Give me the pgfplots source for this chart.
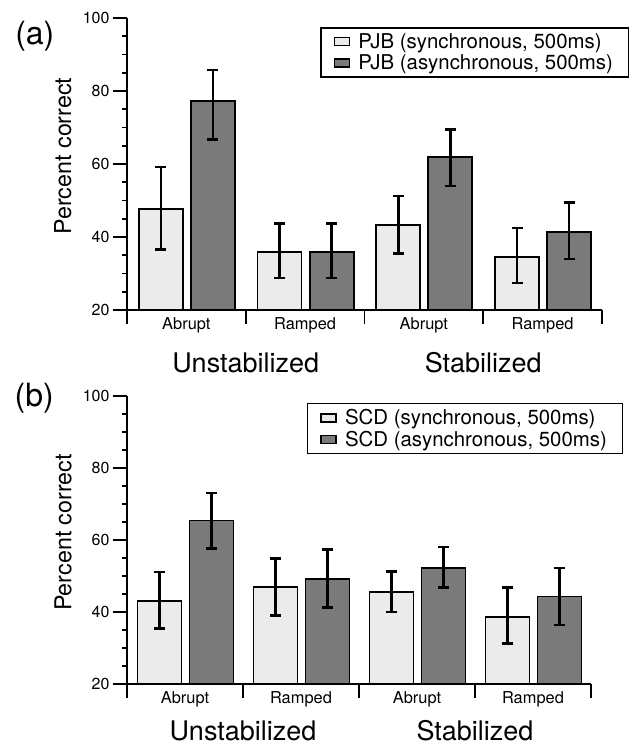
\documentclass[border=0pt]{standalone}
\usepackage{pgfplots}
\pgfplotsset{compat=1.18}
\usepackage{fontspec}
\setmainfont{TeX Gyre Heros}
\definecolor{lightbar}{RGB}{235,235,235}
\definecolor{darkbar}{RGB}{122,122,122}

% x = category index (0..3) plus the bar's offset within its group
\pgfplotstableread{
x y ep em
-0.215 47.7 11.4 11.1
0.785 35.8 7.9 7.1
1.785 43.2 8.0 7.7
2.785 34.6 7.9 7.2
}\pjbsync
\pgfplotstableread{
x y ep em
0.223 77.3 8.5 10.6
1.223 35.8 7.9 7.1
2.223 61.9 7.5 7.9
3.223 41.4 8.1 7.5
}\pjbasync
\pgfplotstableread{
x y ep em
-0.220 43.1 8.0 7.7
0.780 46.9 8.0 7.9
1.780 45.6 5.7 5.6
2.780 38.7 8.1 7.5
}\scdsync
\pgfplotstableread{
x y ep em
0.228 65.4 7.6 7.8
1.228 49.2 8.2 7.9
2.228 52.3 5.8 5.5
3.228 44.3 8.0 7.9
}\scdasync

\pgfplotsset{
  mybars/.style={
    scale only axis, anchor=south west, clip mode=individual,
    xmin=-0.5, xmax=3.5, ymin=20, ymax=100,
    axis x line*=bottom, axis y line*=left,
    axis line style={line width=1.8pt, black},
    ytick={20,40,60,80,100}, minor y tick num=3,
    tick align=outside, major tick length=14pt, minor tick length=5pt,
    tick style={line width=1.8pt, black},
    minor tick style={line width=1.8pt, black},
    xtick={-0.5,0.5,1.5,2.5,3.5}, xticklabels={},
    extra x ticks={0,1,2,3},
    extra x tick labels={Abrupt,Ramped,Abrupt,Ramped},
    extra x tick style={major tick length=0pt,
      tick label style={font=\fontsize{16.4}{18}\selectfont, yshift=-4pt}},
    yticklabel style={font=\fontsize{16}{18}\selectfont},
    /pgf/number format/assume math mode=true,
    ylabel={Percent correct},
    legend cell align=left,
  },
  syncbar/.style={ybar, bar width=44pt, bar shift=0pt, fill=lightbar, draw=black, line width=1.8pt,
    legend image code/.code={\draw[fill=lightbar, draw=black, line width=1.2pt] (0pt,-4pt) rectangle (15pt,4pt);},
    error bars/.cd, y dir=both, y explicit,
    error bar style={line width=2.4pt, black},
    error mark options={rotate=90, mark size=5.5pt, line width=2.4pt, black}},
  asyncbar/.style={ybar, bar width=44pt, bar shift=0pt, fill=darkbar, draw=black, line width=1.8pt,
    legend image code/.code={\draw[fill=darkbar, draw=black, line width=1.2pt] (0pt,-4pt) rectangle (15pt,4pt);},
    error bars/.cd, y dir=both, y explicit,
    error bar style={line width=2.4pt, black},
    error mark options={rotate=90, mark size=5.5pt, line width=2.4pt, black}},
  mylegend/.style={legend style={draw=black, line width=1.5pt, anchor=north east,
    font=\fontsize{20.4}{22}\selectfont, inner xsep=13pt, inner ysep=3.5pt,
    nodes={inner sep=2.4pt}, column sep=6pt}},
}

\begin{document}
\begin{tikzpicture}
\useasboundingbox (0,0) rectangle (634pt,745pt);
% (a)
\begin{axis}[mybars, mylegend, at={(127pt,435pt)}, width=475pt, height=292pt,
  ylabel style={font=\fontsize{23.3}{26}\selectfont, at={(axis description cs:-0.135,0.527)}, anchor=center},
  legend style={at={(axis description cs:1.057,0.969)}}]
\addplot[syncbar] table[x=x, y=y, y error plus=ep, y error minus=em] {\pjbsync};
\addlegendentry{PJB (synchronous, 500ms)}
\addplot[asyncbar] table[x=x, y=y, y error plus=ep, y error minus=em] {\pjbasync};
\addlegendentry{PJB (asynchronous, 500ms)}
\node[anchor=base, font=\fontsize{27}{30}\selectfont] at (axis cs:0.5,3.0) {Unstabilized};
\node[anchor=base, font=\fontsize{27}{30}\selectfont] at (axis cs:2.5,3.0) {Stabilized};
\node[font=\fontsize{32}{36}\selectfont] at (axis description cs:-0.194,0.938) {(a)};
\end{axis}
% (b)
\begin{axis}[mybars, mylegend, at={(127pt,61pt)}, width=464pt, height=288pt,
  ylabel style={font=\fontsize{23.3}{26}\selectfont, at={(axis description cs:-0.138,0.526)}, anchor=center},
  legend style={at={(axis description cs:1.069,0.976)}}]
\addplot[syncbar] table[x=x, y=y, y error plus=ep, y error minus=em] {\scdsync};
\addlegendentry{SCD (synchronous, 500ms)}
\addplot[asyncbar] table[x=x, y=y, y error plus=ep, y error minus=em] {\scdasync};
\addlegendentry{SCD (asynchronous, 500ms)}
\node[anchor=base, font=\fontsize{27}{30}\selectfont] at (axis cs:0.5,4.44) {Unstabilized};
\node[anchor=base, font=\fontsize{27}{30}\selectfont] at (axis cs:2.5,4.44) {Stabilized};
\node[font=\fontsize{32}{36}\selectfont] at (axis description cs:-0.2,0.993) {(b)};
\end{axis}
\end{tikzpicture}
\end{document}
